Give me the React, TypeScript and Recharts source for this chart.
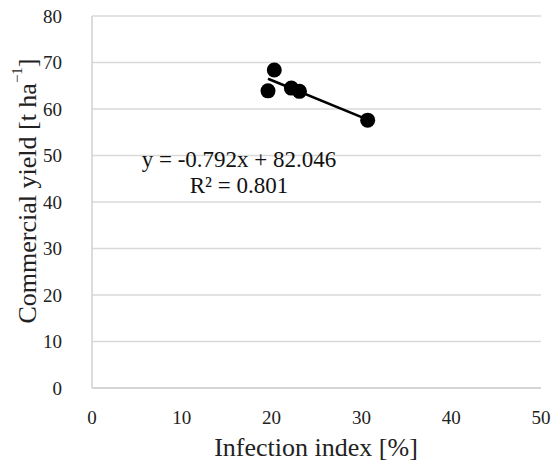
import React from 'react';
import { ScatterChart, Scatter, XAxis, YAxis, CartesianGrid, Customized } from 'recharts';

const infectionIndex = [20.3, 19.6, 22.2, 23.1, 30.7];
const commercialYield = [68.4, 63.9, 64.5, 63.8, 57.6];
const trendX = [19.6, 30.7];
const trendY = [66.5, 57.7];
const xTicks = [0, 10, 20, 30, 40, 50];
const yTicks = [0, 10, 20, 30, 40, 50, 60, 70, 80];
const equationText = 'y = -0.792x + 82.046';
const r2Text = 'R² = 0.801';

const points = infectionIndex.map((x, i) => ({ x, y: commercialYield[i] }));
const trend = trendX.map((x, i) => ({ x, y: trendY[i] }));

const FONT = '"Liberation Serif", "Times New Roman", serif';

const YLabel = (props: any) => {
  const cx = 27;
  const cy = 191;
  return (
    <text x={cx} y={cy} transform={`rotate(-90 ${cx} ${cy})`} textAnchor="middle" dominantBaseline="central" fontFamily={FONT} fontSize={26} fill="#222">
      Commercial yield [t ha<tspan fontSize={15} dy={-10}>−1</tspan><tspan dy={10}>]</tspan>
    </text>
  );
};

const XLabel = (props: any) => (
  <text x={316} y={447} textAnchor="middle" dominantBaseline="central" fontFamily={FONT} fontSize={26} fill="#222">
    Infection index [%]
  </text>
);

const Equation = () => (
  <g fontFamily={FONT} fontSize={23} fill="#111">
    <text x={239} y={167} textAnchor="middle">{equationText}</text>
    <text x={239} y={193} textAnchor="middle">{r2Text}</text>
  </g>
);

export default function App() {
  return (
    <div style={{ position: 'absolute', left: 0, top: 0, background: '#fff' }}>
      <ScatterChart width={556} height={471} margin={{ top: 16, right: 15, bottom: 0, left: 22 }}>
        <CartesianGrid vertical={false} stroke="#d9d9d9" strokeWidth={1.5} />
        <XAxis
          type="number"
          dataKey="x"
          domain={[0, 50]}
          ticks={xTicks}
          tickLine={false}
          axisLine={{ stroke: '#d0d0d0', strokeWidth: 1.5 }}
          tick={{ fontFamily: FONT, fontSize: 19, fill: '#222' }}
          tickMargin={17}
          label={<XLabel />}
          height={83}
        />
        <YAxis
          type="number"
          dataKey="y"
          domain={[0, 80]}
          ticks={yTicks}
          tickLine={false}
          axisLine={{ stroke: '#d0d0d0', strokeWidth: 1.5 }}
          tick={{ fontFamily: FONT, fontSize: 19, fill: '#222' }}
          tickMargin={24}
          width={70}
          label={<YLabel />}
        />
        <Scatter data={trend} fill="none" line={{ stroke: '#000', strokeWidth: 2.5 }} shape={() => <g />} isAnimationActive={false} />
        <Scatter data={points} fill="#000" shape={(p: any) => <circle cx={p.cx} cy={p.cy} r={7.5} fill="#000" />} isAnimationActive={false} />
        <Customized component={Equation} />
      </ScatterChart>
    </div>
  );
}
